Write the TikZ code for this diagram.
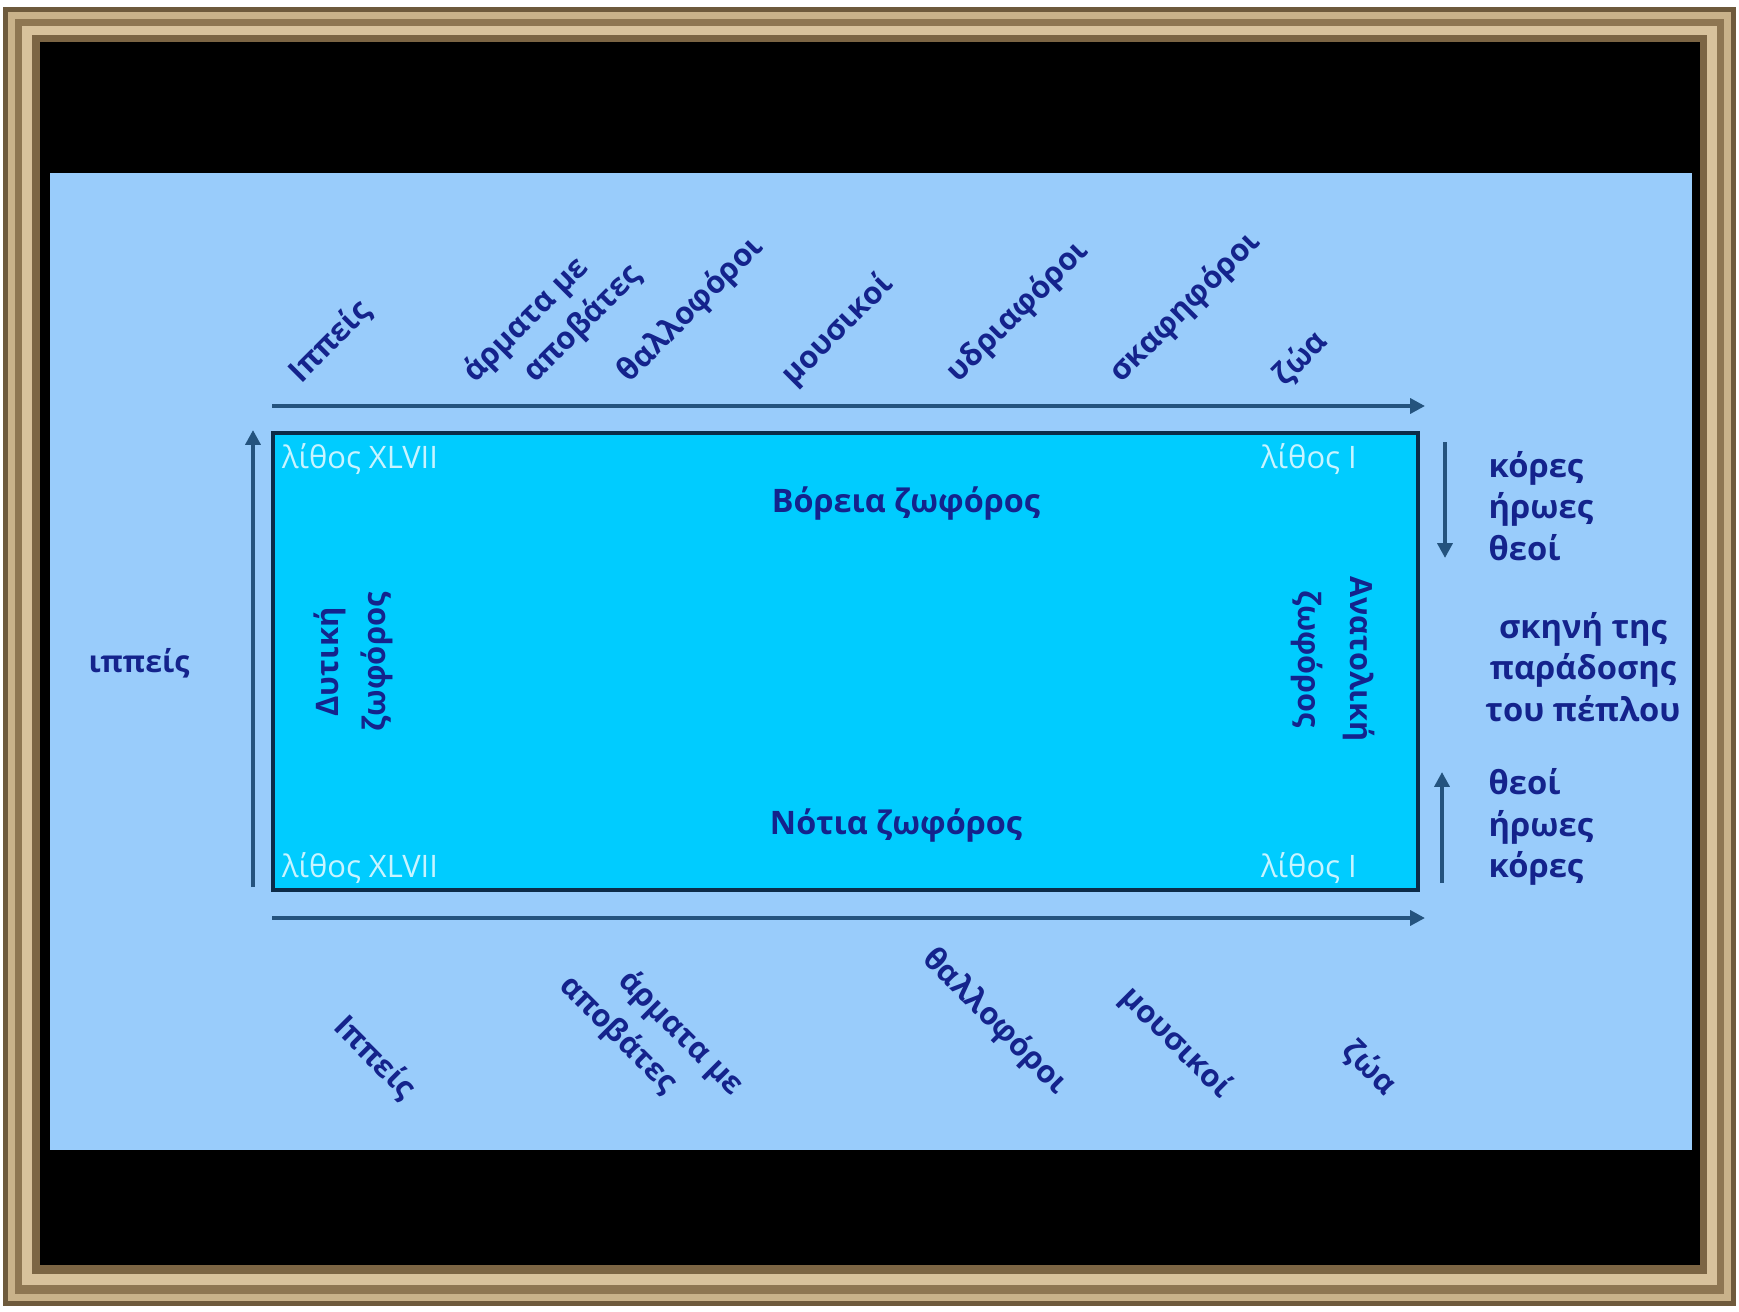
\documentclass[tikz,border=0pt]{standalone}
\usepackage{fontspec}
\setmainfont{Open Sans}
\usetikzlibrary{arrows.meta}
\definecolor{navy}{HTML}{14238C}
\definecolor{skyback}{HTML}{99CCFB}
\definecolor{cyanbox}{HTML}{00CCFF}
\definecolor{boxline}{HTML}{0C2B48}
\definecolor{arrowc}{HTML}{24537E}
\definecolor{stone}{HTML}{C8F4FF}
\definecolor{frameA}{HTML}{6E5A3C}
\definecolor{frameB}{HTML}{C9B28A}
\definecolor{frameC}{HTML}{8E7652}
\definecolor{frameD}{HTML}{D8C29C}
\definecolor{frameE}{HTML}{7C6544}
\tikzset{
  lbl/.style={text=navy, font=\bfseries\fontsize{8.8}{12}\selectfont, inner sep=0pt, align=center},
  fname/.style={text=navy, font=\bfseries\fontsize{9.2}{11}\selectfont, inner sep=0pt, align=center},
  side/.style={text=navy, font=\bfseries\fontsize{9.3}{11.7}\selectfont, inner sep=0pt},
  stonelbl/.style={text=stone, font=\fontsize{8.8}{10}\selectfont, inner sep=0pt},
  flow/.style={draw=arrowc, line width=1.15pt, -{Triangle[length=4.2pt,width=4.2pt]}}
}
\begin{document}
\begin{tikzpicture}[x=0.01cm,y=-0.01cm]
\useasboundingbox (0,0) rectangle (1739,1312);
\fill[white] (0,0) rectangle (1739,1312);
% frame
\fill[frameA] (3,7) rectangle (1736,1306);
\fill[frameB] (8,12) rectangle (1731,1301);
\fill[frameC] (15,19) rectangle (1724,1294);
\fill[frameD] (22,26) rectangle (1717,1285);
\fill[frameE] (32,35) rectangle (1707,1274);
\fill[black] (40,42) rectangle (1700,1265);
\fill[skyback] (50,173) rectangle (1692,1150);
% frieze box
\node[draw=boxline, line width=1.2pt, fill=cyanbox, minimum width=1145*0.01cm, minimum height=457*0.01cm, inner sep=0pt] (box) at (845.5,661.5) {};
% stones
\node[stonelbl] (s47n) at (360,459) {λίθος XLVII};
\node[stonelbl] (s47s) at (360,868) {λίθος XLVII};
\node[stonelbl] (s1n) at (1309,459) {λίθος Ι};
\node[stonelbl] (s1s) at (1309,868) {λίθος Ι};
% frieze names
\node[fname] (north) at (906,504) {Βόρεια ζωφόρος};
\node[fname] (south) at (896,826) {Νότια ζωφόρος};
\node[lbl, rotate=90, font=\bfseries\fontsize{8.8}{13.4}\selectfont] (west) at (353,662) {Δυτική\\ζωφόρος};
\node[lbl, rotate=-90, font=\bfseries\fontsize{8.7}{15}\selectfont] (east) at (1333,659) {Ανατολική\\ζωφόρος};
% arrows
\coordinate (tA) at (272,406);
\coordinate (tB) at (1425,406);
\coordinate (bA) at (272,918);
\coordinate (bB) at (1425,918);
\coordinate (lA) at (253,887);
\coordinate (lB) at (253,430);
\coordinate (dA) at (1445,442);
\coordinate (dB) at (1445,558);
\coordinate (uA) at (1442,883);
\coordinate (uB) at (1442,772);
\draw[flow] (tA) -- (tB);
\draw[flow] (bA) -- (bB);
\draw[flow] (lA) -- (lB);
\draw[flow] (dA) -- (dB);
\draw[flow] (uA) -- (uB);
% top labels
\node[lbl, rotate=45, anchor=west] (t1) at (294,378) {Ιππείς};
\node[lbl, rotate=45, align=left] (t2) at (553,324) {άρματα με\\\hspace*{12pt}αποβάτες};
\node[lbl, rotate=45, anchor=west] (t3) at (623,378) {θαλλοφόροι};
\node[lbl, rotate=45, anchor=west] (t4) at (787,381) {μουσικοί};
\node[lbl, rotate=45, anchor=west] (t5) at (952,378) {υδριαφόροι};
\node[lbl, rotate=45, anchor=west] (t6) at (1115,378) {σκαφηφόροι};
\node[lbl, rotate=45, anchor=west] (t7) at (1278,381) {ζώα};
% bottom labels
\node[lbl, rotate=-45, anchor=east] (b1) at (411,1094) {Ιππείς};
\node[lbl, rotate=-45, align=left, font=\bfseries\fontsize{8.8}{12.8}\selectfont] (b2) at (651,1036) {\hspace*{11pt}άρματα με\\αποβάτες};
\node[lbl, rotate=-45, anchor=east] (b3) at (1063,1090) {θαλλοφόροι};
\node[lbl, rotate=-45, anchor=east] (b4) at (1227,1094) {μουσικοί};
\node[lbl, rotate=-45, anchor=east] (b5) at (1392,1090) {ζώα};
% left label
\node[lbl, font=\bfseries\fontsize{8.6}{11}\selectfont] (left) at (139,663) {ιππείς};
% right labels
\node[side, anchor=west, align=left] (r1) at (1488,506) {κόρες\\ήρωες\\θεοί};
\node[side, align=center] (r2) at (1583,667) {σκηνή της\\παράδοσης\\του πέπλου};
\node[side, anchor=west, align=left] (r3) at (1488,827) {θεοί\\ήρωες\\κόρες};
\end{tikzpicture}
\end{document}
